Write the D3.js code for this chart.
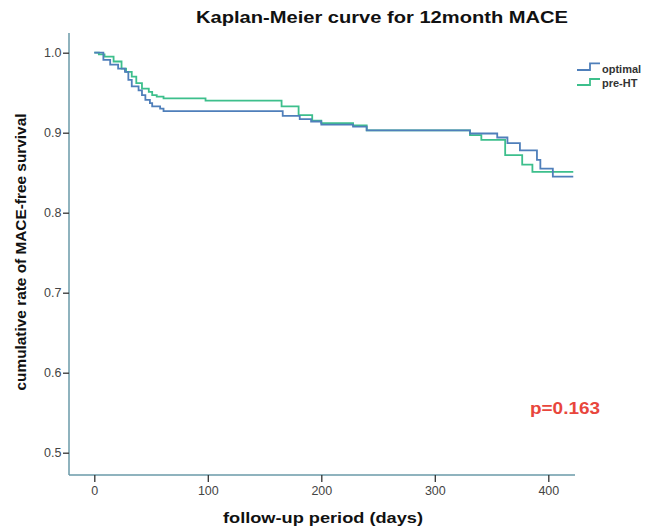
<!DOCTYPE html>
<html><head><meta charset="utf-8">
<script src="https://cdn.jsdelivr.net/npm/d3@7"></script>
<style>body{margin:0;background:#fff}svg{display:block}text{font-family:Arial,"Liberation Sans",sans-serif}</style>
</head><body>
<script>
// Kaplan-Meier step data (day, survival after event)
const optimalDays = [0, 8, 14, 21, 27, 30, 33, 39, 42, 45, 49, 51, 58, 61, 166, 181, 191, 200, 228, 240, 331, 355, 364, 375, 390, 393, 404, 422];
const optimalSurv = [1.0, 0.991, 0.985, 0.980, 0.976, 0.966, 0.958, 0.953, 0.947, 0.941, 0.937, 0.933, 0.930, 0.927, 0.921, 0.917, 0.914, 0.910, 0.9075, 0.903, 0.899, 0.894, 0.887, 0.878, 0.866, 0.855, 0.845, 0.845];
const preHTDays = [0, 4, 9, 17, 24, 28, 33, 37, 42, 48, 51, 55, 61, 98, 165, 180, 192, 200, 228, 240, 331, 341, 362, 377, 386, 422];
const preHTSurv = [1.0, 0.998, 0.995, 0.989, 0.980, 0.976, 0.970, 0.962, 0.955, 0.951, 0.947, 0.945, 0.943, 0.940, 0.933, 0.922, 0.915, 0.912, 0.909, 0.903, 0.897, 0.891, 0.872, 0.860, 0.851, 0.851];
const seriesNames = ["optimal", "pre-HT"];
const xTicks = [0, 100, 200, 300, 400];
const yTicks = [0.5, 0.6, 0.7, 0.8, 0.9, 1.0];
const pValue = "p=0.163";

const W = 645, H = 531;
const svg = d3.select("body").append("svg").attr("width", W).attr("height", H);

const x = d3.scaleLinear().domain([0, 400]).range([94.3, 548.3]);
const y = d3.scaleLinear().domain([0.5, 1.0]).range([452.7, 52.7]);
const axisColor = "#6a9aa8";
const x0 = 69, yBase = 475, xEnd = 575, yTop = 33;

// axes lines
svg.append("line").attr("x1", x0).attr("x2", x0).attr("y1", yTop).attr("y2", yBase).attr("stroke", axisColor).attr("stroke-width", 1.5);
svg.append("line").attr("x1", x0).attr("x2", xEnd).attr("y1", yBase).attr("y2", yBase).attr("stroke", axisColor).attr("stroke-width", 1.5);

// y axis ticks
const ya = svg.append("g").attr("transform", `translate(${x0},0)`)
  .call(d3.axisLeft(y).tickValues(yTicks).tickFormat(d3.format(".1f")).tickSize(6).tickPadding(1.5));
ya.select(".domain").remove();
ya.selectAll(".tick line").attr("stroke", "#333").attr("stroke-width", 1.3);
ya.selectAll(".tick text").attr("fill", "#444").style("font-size", "12.5px").style("font-family", "Arial");

// x axis ticks
const xa = svg.append("g").attr("transform", `translate(0,${yBase})`)
  .call(d3.axisBottom(x).tickValues(xTicks).tickFormat(d3.format("d")).tickSize(7).tickPadding(4));
xa.select(".domain").remove();
xa.selectAll(".tick line").attr("stroke", "#333").attr("stroke-width", 1.3);
xa.selectAll(".tick text").attr("fill", "#444").style("font-size", "12.5px").style("font-family", "Arial");

const line = d3.line().x(d => x(d[0])).y(d => y(d[1])).curve(d3.curveStepAfter);
const colors = ["#4f7fba", "#3dbf8c"];
const series = [d3.zip(preHTDays, preHTSurv), d3.zip(optimalDays, optimalSurv)];
const order = [1, 0];
series.forEach((s, i) => {
  svg.append("path").datum(s).attr("d", line).attr("fill", "none")
    .attr("stroke", colors[order[i]]).attr("stroke-width", 1.8);
});

// legend
const leg = [[70, 63.3, 73], [85, 79, 87]];
seriesNames.forEach((n, i) => {
  const [lo, hi, base] = leg[i];
  svg.append("path").attr("d", `M577,${lo}H590V${hi}H600`).attr("fill", "none")
    .attr("stroke", colors[i]).attr("stroke-width", 1.8);
  svg.append("text").attr("x", 602).attr("y", base).text(n)
    .attr("fill", "#333").style("font-size", "11px").style("font-weight", "bold");
});

// title
svg.append("text").attr("x", 382).attr("y", 23).attr("text-anchor", "middle")
  .attr("textLength", 372).attr("lengthAdjust", "spacingAndGlyphs")
  .text("Kaplan-Meier curve for 12month MACE").attr("fill", "#111")
  .style("font-size", "16.5px").style("font-weight", "bold");
// axis titles
svg.append("text").attr("x", 323).attr("y", 523).attr("text-anchor", "middle")
  .attr("textLength", 200).attr("lengthAdjust", "spacingAndGlyphs")
  .text("follow-up period (days)").attr("fill", "#111")
  .style("font-size", "15px").style("font-weight", "bold");
svg.append("text").attr("transform", "translate(26,252) rotate(-90)").attr("text-anchor", "middle")
  .attr("textLength", 277).attr("lengthAdjust", "spacingAndGlyphs")
  .text("cumulative rate of MACE-free survival").attr("fill", "#111")
  .style("font-size", "14.5px").style("font-weight", "bold");
// p value
svg.append("text").attr("x", 565).attr("y", 414).attr("text-anchor", "middle")
  .attr("textLength", 70).attr("lengthAdjust", "spacingAndGlyphs")
  .text(pValue).attr("fill", "#e8463c").style("font-size", "16px").style("font-weight", "bold");
</script>
</body></html>
